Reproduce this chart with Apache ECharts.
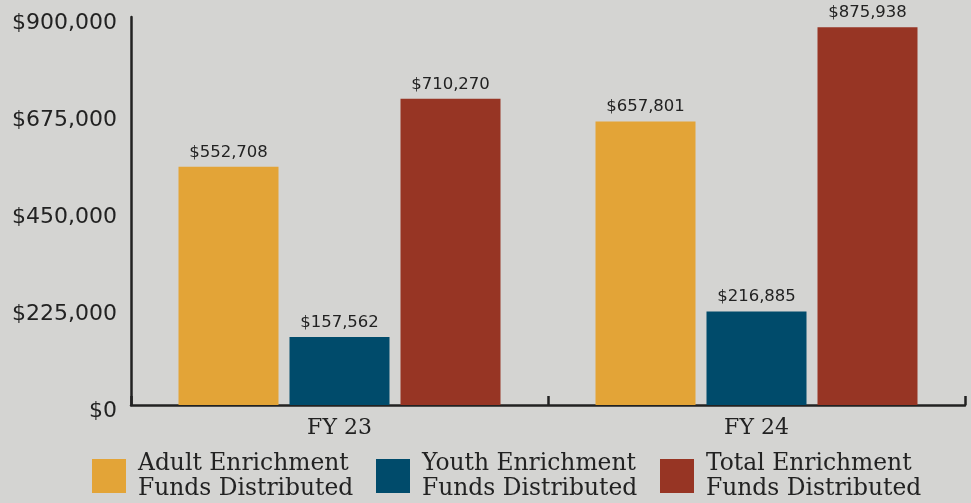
<!DOCTYPE html>
<html>
<head>
<meta charset="utf-8">
<script src="https://cdn.jsdelivr.net/npm/echarts@6/dist/echarts.min.js"></script>
<style>
  html, body { margin: 0; padding: 0; background: #d4d4d2; }
  #chart { width: 971px; height: 503px; }
</style>
</head>
<body>
<div id="chart"></div>
<script>
// 数据
var years = ['FY 23', 'FY 24'];
var adultFunds = [552708, 657801];
var youthFunds = [157562, 216885];
var totalFunds = [710270, 875938];
var yTicks = [0, 225000, 450000, 675000, 900000];

var seriesNames = [
  'Adult Enrichment\nFunds Distributed',
  'Youth Enrichment\nFunds Distributed',
  'Total Enrichment\nFunds Distributed'
];
var colors = ['#e3a437', '#004b6b', '#973524'];

function money(v) {
  return '$' + v.toLocaleString('en-US');
}

var chart = echarts.init(document.getElementById('chart'));

function makeLegend(name, left) {
  return {
    data: [name],
    left: left,
    top: 451,
    padding: 0,
    icon: 'rect',
    itemWidth: 34,
    itemHeight: 34,
    selectedMode: false,
    textStyle: {
      fontFamily: 'DejaVu Serif',
      fontSize: 23.4,
      lineHeight: 25,
      color: '#222',
      padding: [0, 0, 0, 7]
    }
  };
}

function makeSeries(i, data) {
  return {
    name: seriesNames[i],
    type: 'bar',
    data: data,
    barWidth: 100,
    barGap: '11%',
    itemStyle: { color: colors[i] },
    label: {
      show: true,
      position: 'top',
      distance: 6,
      fontFamily: 'DejaVu Sans',
      fontSize: 16.5,
      color: '#222',
      formatter: function (p) { return money(p.value); }
    }
  };
}

var option = {
  backgroundColor: '#d4d4d2',
  animation: false,
  grid: { left: 131, right: 6, top: 17, bottom: 98 },
  legend: [
    makeLegend(seriesNames[0], 92),
    makeLegend(seriesNames[1], 376),
    makeLegend(seriesNames[2], 660)
  ],
  xAxis: {
    type: 'category',
    data: years,
    axisLine: { lineStyle: { color: '#222', width: 2.5 } },
    axisTick: { show: true, inside: true, length: 9, lineStyle: { color: '#222', width: 2.5 } },
    axisLabel: {
      margin: 12,
      fontFamily: 'DejaVu Serif',
      fontSize: 22,
      color: '#222'
    }
  },
  yAxis: {
    type: 'value',
    min: yTicks[0],
    max: yTicks[yTicks.length - 1],
    interval: yTicks[1] - yTicks[0],
    axisLine: { show: true, lineStyle: { color: '#222', width: 2.5 } },
    axisTick: { show: false },
    splitLine: { show: false },
    axisLabel: {
      margin: 14,
      verticalAlign: 'top',
      lineHeight: 12,
      fontFamily: 'DejaVu Sans',
      fontSize: 22,
      color: '#222',
      formatter: function (v) { return money(v); }
    }
  },
  series: [
    makeSeries(0, adultFunds),
    makeSeries(1, youthFunds),
    makeSeries(2, totalFunds)
  ]
};

chart.setOption(option);
</script>
</body>
</html>
